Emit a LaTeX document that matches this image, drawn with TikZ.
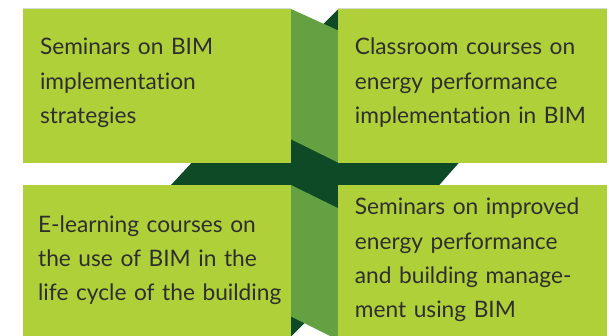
\documentclass[tikz,border=0pt]{standalone}
\usepackage{fontspec}
\setmainfont[Ligatures=NoCommon]{Lato}
\definecolor{lime}{HTML}{B0D03A}
\definecolor{midgreen}{HTML}{63A142}
\definecolor{darkgreen}{HTML}{0F4A27}
\definecolor{txt}{HTML}{2E2E2E}
\definecolor{edge}{HTML}{D3DDD3}
\tikzset{
  box/.style={fill=lime},
  band/.style={fill=midgreen},
  dark/.style={fill=darkgreen},
  label/.style={anchor=base west, inner sep=0pt, text width=260pt, align=left,
    text=txt, font=\fontsize{22.7}{34.3}\selectfont},
}
\begin{document}
\begin{tikzpicture}[x=1pt,y=-1pt]
\useasboundingbox (0,0) rectangle (609,336);
\fill[white] (0,0) rectangle (609,336);
% dark background shapes
\path[dark] (171,185) -- (191.7,162.7) -- (459,162.7) -- (439.3,185) -- cycle;
\path[dark] (338.3,9) -- (338.3,289.7) -- (291,336.5) -- (291,56.3) -- cycle;
% medium bands in the gap
\path[band] (291,9) -- (338.3,30.5) -- (338.3,162.7) -- (291,139.3) -- cycle;
\path[band] (291,185) -- (338.3,208.3) -- (338.3,340) -- (291,316.5) -- cycle;
% boxes
\path[box] (23,9) rectangle (291,162.7);
\path[box] (338.3,9) rectangle (606.5,162.7);
\path[box] (23,185) rectangle (291,336);
\path[box] (338.3,185) rectangle (606.5,336);
\draw[edge,line width=0.6pt] (23,8.5) -- (291,8.5);
\draw[edge,line width=0.6pt] (338.3,8.5) -- (607,8.5);
% texts
\node[label] (t1) at (39.8,55) {Seminars on BIM\\implementation\\strategies};
\node[label] (t2) at (354.7,55) {Classroom courses on\\energy performance\\implementation in BIM};
\node[label] (t3) at (37.9,232.3) {E-learning courses on\\the use of BIM in the\\life cycle of the building};
\node[label] (t4) at (354.7,215) {Seminars on improved\\energy performance\\and building manage-\\ment using BIM};
\end{tikzpicture}
\end{document}
